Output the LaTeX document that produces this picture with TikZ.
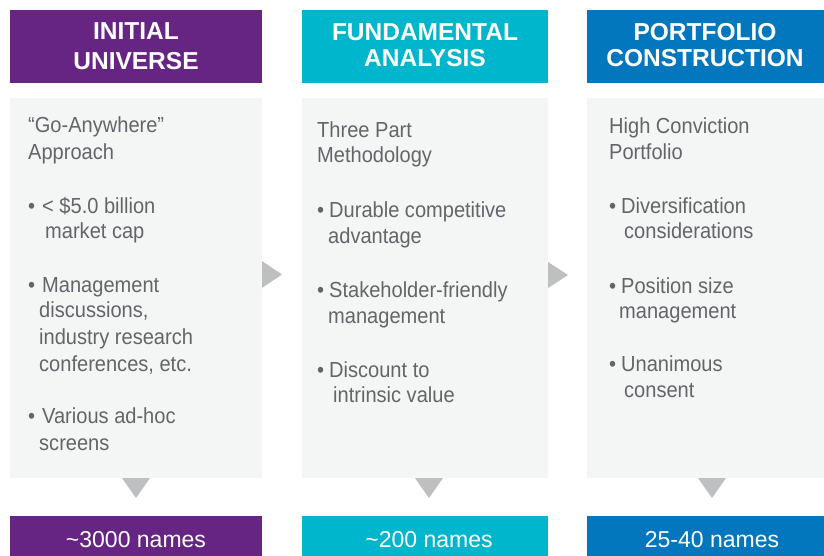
\documentclass[tikz,border=0pt]{standalone}
\usepackage{fontspec}
\setmainfont{Liberation Sans}
\newfontfamily\bodyfam[FakeStretch=0.92]{Liberation Sans}
\definecolor{cpurple}{HTML}{662483}
\definecolor{cteal}{HTML}{00B6CD}
\definecolor{cblue}{HTML}{0277BE}
\definecolor{bodygray}{HTML}{F4F5F5}
\definecolor{arrgray}{HTML}{BDBFC1}
\definecolor{txtgray}{HTML}{62666A}
\tikzset{
  boxshape/.style={rectangle, inner sep=0pt, outer sep=0pt, draw=none},
  hdrtxt/.style={anchor=base, inner sep=0pt, text=white, font=\fontsize{24.5}{28}\selectfont\bfseries},
  btmtxt/.style={anchor=base, inner sep=0pt, text=white, font=\fontsize{23}{26}\selectfont},
  bodytxt/.style={anchor=base west, inner sep=0pt, text=txtgray, font=\bodyfam\fontsize{21.8}{24}\selectfont},
  tri/.style={fill=arrgray, draw=none}
}
\begin{document}
\begin{tikzpicture}[x=1pt,y=-1pt]
\useasboundingbox (0,0) rectangle (824,556);
\fill[white] (0,0) rectangle (824,556);
% header boxes
\fill[cpurple] (10,10) rectangle (262,83);
\fill[cteal] (302,10) rectangle (548,83);
\fill[cblue] (587,10) rectangle (824,83);
% body boxes
\fill[bodygray] (10,98) rectangle (262,478);
\fill[bodygray] (302,98) rectangle (548,478);
\fill[bodygray] (587,98) rectangle (824,478);
% bottom boxes
\fill[cpurple] (10,516) rectangle (262,556);
\fill[cteal] (302,516) rectangle (548,556);
\fill[cblue] (587,516) rectangle (824,556);
% triangles down
\coordinate (d1) at (136,478);
\coordinate (d2) at (429,478);
\coordinate (d3) at (712,478);
\fill[tri] (d1) ++(-14,0) -- ++(28,0) -- ++(-14,20) -- cycle;
\fill[tri] (d2) ++(-14,0) -- ++(28,0) -- ++(-14,20) -- cycle;
\fill[tri] (d3) ++(-14,0) -- ++(28,0) -- ++(-14,20) -- cycle;
% triangles right
\coordinate (r1) at (262,261);
\coordinate (r2) at (548,262);
\fill[tri] (r1) -- ++(0,27) -- ++(20,-13.5) -- cycle;
\fill[tri] (r2) -- ++(0,26) -- ++(20,-13) -- cycle;
% header text
\node[hdrtxt] (h1a) at (136,40) {INITIAL};
\node[hdrtxt] (h1b) at (136,70) {UNIVERSE};
\node[hdrtxt] (h2a) at (425,40.5) {FUNDAMENTAL};
\node[hdrtxt] (h2b) at (425,66.5) {ANALYSIS};
\node[hdrtxt] (h3a) at (705,40.5) {PORTFOLIO};
\node[hdrtxt] (h3b) at (705,66.5) {CONSTRUCTION};
% bottom text
\node[btmtxt] (b1) at (136,547) {\char"007E 3000 names};
\node[btmtxt] (b2) at (429,547) {\char"007E 200 names};
\node[btmtxt] (b3) at (712,547) {25-40 names};
% column 1 body
\node[bodytxt] (c1a) at (28,133) {“Go-Anywhere”};
\node[bodytxt] (c1b) at (28,160) {Approach};
\node[bodytxt] (c1c) at (28,213) {•};
\node[bodytxt] (c1d) at (42,213) {< \$5.0 billion};
\node[bodytxt] (c1e) at (45,238) {market cap};
\node[bodytxt] (c1f) at (28,292) {•};
\node[bodytxt] (c1g) at (42,292) {Management};
\node[bodytxt] (c1h) at (39,317) {discussions,};
\node[bodytxt] (c1i) at (39,344) {industry research};
\node[bodytxt] (c1j) at (39,371) {conferences, etc.};
\node[bodytxt] (c1k) at (28,423) {•};
\node[bodytxt] (c1l) at (42,423) {Various ad-hoc};
\node[bodytxt] (c1m) at (39,450) {screens};
% column 2 body
\node[bodytxt] (c2a) at (317,138) {Three Part};
\node[bodytxt] (c2b) at (317,163) {Methodology};
\node[bodytxt] (c2c) at (317,218) {•};
\node[bodytxt] (c2d) at (329,218) {Durable competitive};
\node[bodytxt] (c2e) at (328,243) {advantage};
\node[bodytxt] (c2f) at (317,297) {•};
\node[bodytxt] (c2g) at (329,297) {Stakeholder-friendly};
\node[bodytxt] (c2h) at (328,323) {management};
\node[bodytxt] (c2i) at (317,377) {•};
\node[bodytxt] (c2j) at (329,377) {Discount to};
\node[bodytxt] (c2k) at (333,402) {intrinsic value};
% column 3 body
\node[bodytxt] (c3a) at (609,134) {High Conviction};
\node[bodytxt] (c3b) at (609,160) {Portfolio};
\node[bodytxt] (c3c) at (609,213) {•};
\node[bodytxt] (c3d) at (621,213) {Diversification};
\node[bodytxt] (c3e) at (624,238) {considerations};
\node[bodytxt] (c3f) at (609,293) {•};
\node[bodytxt] (c3g) at (621,293) {Position size};
\node[bodytxt] (c3h) at (619,318) {management};
\node[bodytxt] (c3i) at (609,371) {•};
\node[bodytxt] (c3j) at (621,371) {Unanimous};
\node[bodytxt] (c3k) at (624,397) {consent};
\end{tikzpicture}
\end{document}
